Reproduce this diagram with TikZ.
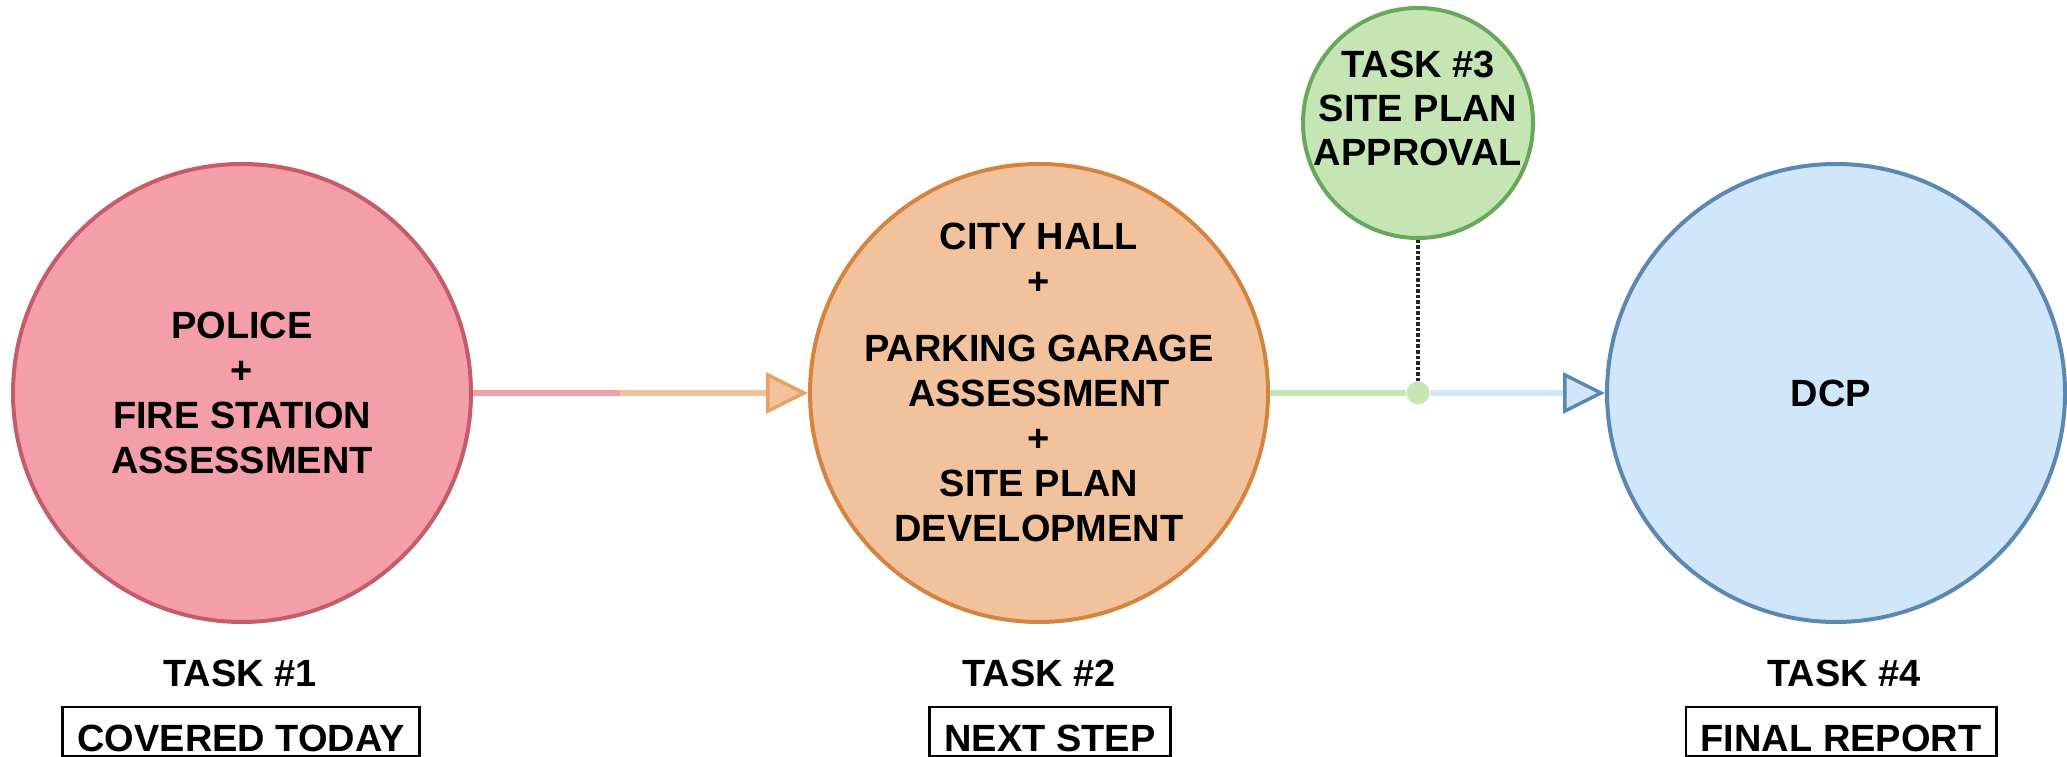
\documentclass[tikz,border=0pt]{standalone}
\usepackage{fontspec}
\setmainfont{Liberation Sans}
\usetikzlibrary{arrows.meta}

\definecolor{pinkfill}{HTML}{F39EA8}
\definecolor{pinkline}{HTML}{C45C6A}
\definecolor{orangefill}{HTML}{F2C29C}
\definecolor{orangeline}{HTML}{D4843E}
\definecolor{orangetip}{HTML}{E9A263}
\definecolor{greenfill}{HTML}{C6E5B5}
\definecolor{greenline}{HTML}{67A85C}
\definecolor{bluefill}{HTML}{D0E7FB}
\definecolor{blueline}{HTML}{5A88B3}

\tikzset{
	task/.style={circle, line width=0.04cm, minimum size=4.58cm, inner sep=0pt},
	words/.style={align=center, font=\fontsize{10.8pt}{12.8pt}\selectfont\bfseries},
	link/.style={line width=0.06cm},
	tasklabel/.style={words, anchor=base, inner sep=0pt},
	tag/.style={draw, line width=0.025cm, anchor=base, inner xsep=0.15cm, inner ysep=0pt,
		text height=0.45cm, text depth=0.04cm, font=\fontsize{10.8pt}{12.8pt}\selectfont\bfseries}
}

\begin{document}
\begin{tikzpicture}
			%%%%% START %%%%%
			\useasboundingbox (0, 0) rectangle (20.67, 7.57);
			
			\node[task, draw=pinkline, fill=pinkfill, words] (c1) at (2.42, 3.64) {POLICE\\+\\FIRE STATION\\ASSESSMENT};
			\node[task, draw=orangeline, fill=orangefill] (c2) at (10.39, 3.64) {};
			\node[words] (c2txt) at ([yshift=0.105cm]c2.center) {CITY HALL\\+\\[0.22cm]PARKING GARAGE\\ASSESSMENT\\+\\SITE PLAN\\DEVELOPMENT};
			\node[task, draw=blueline, fill=bluefill, words] (c4) at (18.36, 3.64) {\hspace*{-0.1cm}DCP};
			
			\node[task, draw=greenline, fill=greenfill, minimum size=2.3cm] (c3) at (14.18, 6.34) {};
			\node[words, font=\fontsize{10.8pt}{12.4pt}\selectfont\bfseries] (c3txt) at ([yshift=0.145cm]c3.center) {TASK \#3\\SITE PLAN\\APPROVAL};
			
			% links
			\coordinate (m1) at (6.20, 3.64);
			\node[circle, fill=greenfill, minimum size=0.23cm, inner sep=0pt] (j) at (14.18, 3.64) {};
			
			\draw[link, pinkfill] (c1) -- (m1);
			\draw[link, orangefill, -{Triangle[length=0.42cm, width=0.41cm, line width=0.035cm, fill=orangefill, color=orangetip]}] (m1) -- (c2);
			\draw[link, greenfill] (c2) -- (j);
			\draw[link, bluefill, -{Triangle[length=0.42cm, width=0.41cm, line width=0.035cm, fill=bluefill, color=blueline]}] (j) -- (c4);
			\draw[line width=0.04cm, dash pattern=on 0.035cm off 0.02cm, black!85] (c3.south) -- (j.north);
			
			% labels
			\node[tasklabel] (l1) at (2.40, 0.70) {TASK \#1};
			\node[tasklabel] (l2) at (10.39, 0.70) {TASK \#2};
			\node[tasklabel] (l4) at (18.44, 0.70) {TASK \#4};
			
			\node[tag] (t1) at (2.41, 0.05) {COVERED TODAY};
			\node[tag] (t2) at (10.50, 0.05) {NEXT STEP};
			\node[tag] (t4) at (18.41, 0.05) {FINAL REPORT};
			
			%%%%% END %%%%%
\end{tikzpicture}
\end{document}
